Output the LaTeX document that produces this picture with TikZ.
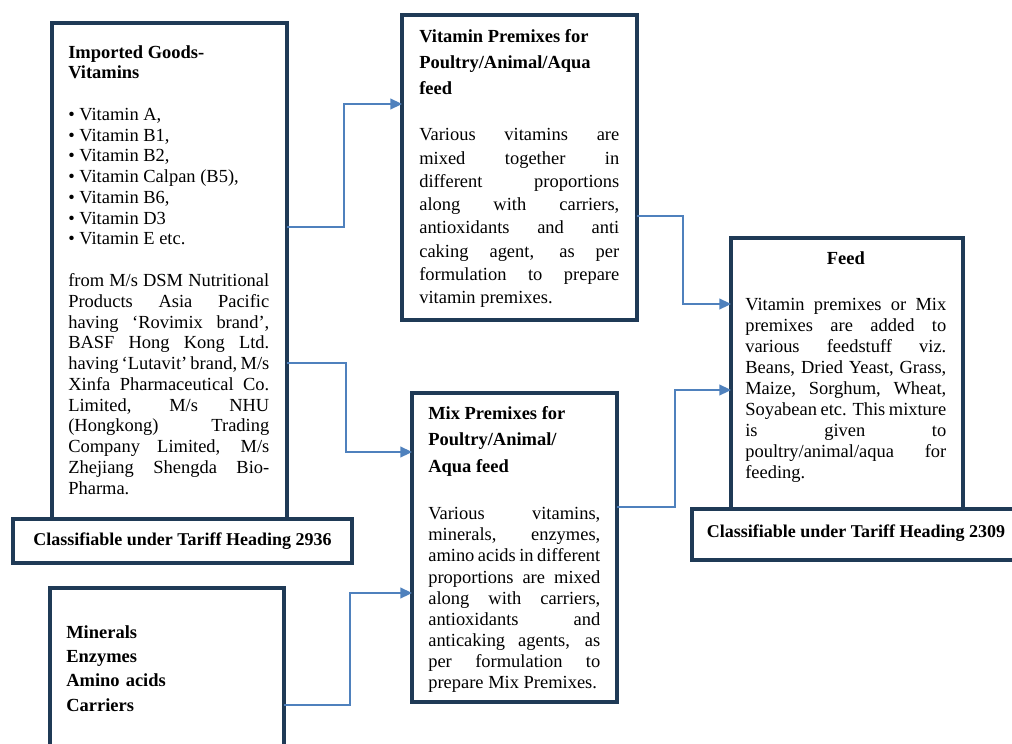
\documentclass[tikz,border=0pt]{standalone}
\usepackage{fontspec}
\setmainfont{Liberation Serif}
\usetikzlibrary{arrows.meta}
\def\pxu{0.65pt}
\definecolor{framecolor}{HTML}{1F3A56}
\definecolor{linkcolor}{HTML}{4F81BD}
\setlength{\parindent}{0pt}
\hbadness=10000
\hfuzz=4pt

\begin{document}
\begin{tikzpicture}[x=\pxu,y=-\pxu,
  box/.style={draw=framecolor,line width=2pt,fill=white,anchor=north west,
    inner sep=0pt,outer sep=0pt},
  tariff/.style={box,font=\fontsize{11.7}{14}\selectfont\bfseries},
  body/.style={anchor=base west,inner sep=0pt,align=justify},
  link/.style={draw=linkcolor,line width=0.85pt,-{Triangle[length=7.5pt,width=7pt]}}]
\useasboundingbox (0,0) rectangle (1012,744);
\clip (0,0) rectangle (1012,744);

% left column
\node[box,minimum width=235*\pxu,minimum height=496*\pxu] (imp) at (52,23) {};
\node[body,text width=201*\pxu,font=\fontsize{12}{13.5}\selectfont] (imptxt) at (68,58)
  {{\bfseries Imported Goods-\\Vitamins\par}\vspace{13.5pt}
   • Vitamin A,\\
   • Vitamin B1,\\
   • Vitamin B2,\\
   • Vitamin Calpan (B5),\\
   • Vitamin B6,\\
   • Vitamin D3\\
   • Vitamin E etc.\par\vspace{13.5pt}
   from M/s DSM Nutritional\linebreak Products Asia Pacific\linebreak
   having `Rovimix brand',\linebreak BASF Hong Kong Ltd.\linebreak
   having `Lutavit' brand, M/s\linebreak Xinfa Pharmaceutical Co.\linebreak
   Limited, M/s NHU\linebreak (Hongkong) Trading\linebreak
   Company Limited, M/s\linebreak Zhejiang Shengda Bio-\linebreak Pharma.};
\node[tariff,minimum width=339*\pxu,minimum height=44*\pxu] (tar1) at (13,519)
  {Classifiable under Tariff Heading 2936};

\node[box,minimum width=234*\pxu,minimum height=190*\pxu] (min) at (50,588) {};
\node[anchor=base west,inner sep=0pt,text width=180*\pxu,
  font=\fontsize{12}{15.9}\selectfont\bfseries] (mintxt) at (66,638)
  {Minerals\par Enzymes\par Amino acids\par Carriers};

% middle column
\node[box,minimum width=235*\pxu,minimum height=305*\pxu] (vit) at (402,15) {};
\node[body,text width=200*\pxu,font=\fontsize{12}{15.1}\selectfont] (vittxt) at (419,42)
  {{\bfseries\fontsize{12}{17.2}\selectfont Vitamin Premixes for\\Poultry/Animal/Aqua\\feed\par}
   \vspace{14.8pt}
   Various vitamins are\linebreak mixed together in\linebreak
   different proportions\linebreak along with carriers,\linebreak
   antioxidants and anti\linebreak caking agent, as per\linebreak
   formulation to prepare\linebreak vitamin premixes.};

\node[box,minimum width=205*\pxu,minimum height=309*\pxu] (mix) at (412,393) {};
\node[body,text width=172*\pxu,font=\fontsize{12}{13.7}\selectfont] (mixtxt) at (428,419)
  {{\bfseries\fontsize{12}{17.5}\selectfont Mix Premixes for\\Poultry/Animal/\\Aqua feed\par}
   \vspace{16.8pt}
   Various vitamins,\linebreak minerals, enzymes,\linebreak
   amino acids in different\linebreak proportions are mixed\linebreak
   along with carriers,\linebreak antioxidants and\linebreak
   anticaking agents, as\linebreak per formulation to\linebreak
   prepare Mix Premixes.};

% right column
\node[box,minimum width=232*\pxu,minimum height=271*\pxu] (feed) at (731,238) {};
\node[body,text width=201*\pxu,font=\fontsize{12}{13.7}\selectfont] (feedtxt) at (745,264)
  {{\centering\bfseries Feed\par}
   \vspace{16.3pt}
   Vitamin premixes or Mix\linebreak premixes are added to\linebreak
   various feedstuff viz.\linebreak Beans, Dried Yeast, Grass,\linebreak
   Maize, Sorghum, Wheat,\linebreak Soyabean etc. This mixture\linebreak
   is given to\linebreak poultry/animal/aqua for\linebreak feeding.};
\node[tariff,minimum width=328*\pxu,minimum height=51*\pxu,text depth=4pt] (tar2) at (692,509)
  {Classifiable under Tariff Heading 2309};

% connectors
\draw[link] ([shift={(0,204)}]imp.north east) -- ++(57,0) |- ([shift={(0,89)}]vit.north west);
\draw[link] ([shift={(0,340)}]imp.north east) -- ++(59,0) |- ([shift={(0,59)}]mix.north west);
\draw[link] ([shift={(0,117)}]min.north east) -- ++(66,0) |- ([shift={(0,200)}]mix.north west);
\draw[link] ([shift={(0,201)}]vit.north east) -- ++(46,0) |- ([shift={(0,66)}]feed.north west);
\draw[link] ([shift={(0,114)}]mix.north east) -- ++(58,0) |- ([shift={(0,152)}]feed.north west);
\end{tikzpicture}
\end{document}
